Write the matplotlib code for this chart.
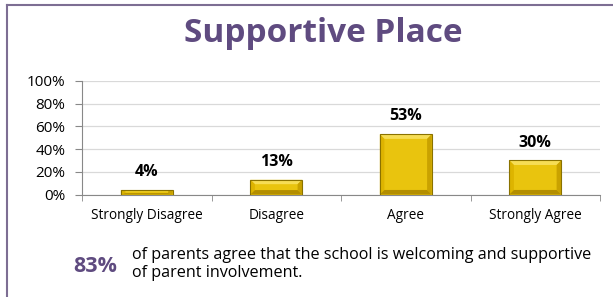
import matplotlib
matplotlib.use("Agg")
import matplotlib.pyplot as plt
from matplotlib.patches import Polygon
from matplotlib.lines import Line2D

categories = ["Strongly Disagree", "Disagree", "Agree", "Strongly Agree"]
values = [4, 13, 53, 30]
yticks = [0, 20, 40, 60, 80, 100]
title = "Supportive Place"
summary_pct = "83%"
summary_text = "of parents agree that the school is welcoming and supportive\nof parent involvement."

plt.rcParams['font.family'] = ['Open Sans', 'DejaVu Sans']

W, H = 613, 297
fig = plt.figure(figsize=(W/100, H/100), dpi=100)
fig.patch.set_facecolor('white')

# border (top and left)
border_c = '#7d6e93'
fig.add_artist(Line2D([7/W, 1], [1-5/H, 1-5/H], color=border_c, lw=1.5, transform=fig.transFigure))
fig.add_artist(Line2D([7/W, 7/W], [0, 1-5/H], color=border_c, lw=1.5, transform=fig.transFigure))

ax = fig.add_axes([82/W, 1-194.5/H, 518/W, 113.5/H])
x = list(range(len(categories)))
w = 0.4
ax.bar(x, values, width=w, color='#E9C40E', edgecolor='none', zorder=3)
# bevel effect
for xi, v in zip(x, values):
    b = 0.035
    bh = min(4.0, v * 0.3)
    x0, x1 = xi - w/2, xi + w/2
    top = [(x0, v), (x1, v), (x1 - b, v - bh), (x0 + b, v - bh)]
    ax.add_patch(Polygon(top, closed=True, facecolor='#F6DD55', edgecolor='none', zorder=4))
    left = [(x0, 0), (x0, v), (x0 + b, v - bh), (x0 + b, bh)]
    ax.add_patch(Polygon(left, closed=True, facecolor='#DDB400', edgecolor='none', zorder=4))
    right = [(x1, 0), (x1, v), (x1 - b, v - bh), (x1 - b, bh)]
    ax.add_patch(Polygon(right, closed=True, facecolor='#C9A200', edgecolor='none', zorder=4))
    bot = [(x0, 0), (x1, 0), (x1 - b, bh), (x0 + b, bh)]
    ax.add_patch(Polygon(bot, closed=True, facecolor='#B38E00', edgecolor='none', zorder=4))
    ax.bar(xi, v, width=w, color='none', edgecolor='#8a7200', linewidth=0.8, zorder=5)
    ax.annotate(f"{v}%", (xi, v), xytext=(0, 10), textcoords='offset points',
                ha='center', va='baseline', fontsize=11.5, fontweight='bold', color='black')

ax.set_xlim(-0.5, len(categories) - 0.5)
ax.set_ylim(0, 100)
ax.set_yticks(yticks)
ax.set_yticklabels([f"{t}%" for t in yticks], fontsize=11)
ax.yaxis.grid(True, color='#d9d9d9', linewidth=0.9, zorder=0)
ax.set_axisbelow(True)
ax.set_xticks(x)
ax.set_xticklabels(categories, fontsize=9.8)
ax.tick_params(axis='x', length=0, pad=10)
ax.set_xticks([i - 0.5 for i in range(len(categories) + 1)], minor=True)
ax.tick_params(axis='x', which='minor', length=4, color='#888888')
ax.tick_params(axis='y', length=5, color='#888888', pad=7)
for s in ['top', 'right']:
    ax.spines[s].set_visible(False)
ax.spines['left'].set_color('#888888')
ax.spines['bottom'].set_color('#888888')

fig.text(323/W, 1-33/H, title, ha='center', va='center', fontsize=24, fontweight='bold', color='#5f4b80')
fig.text(95/W, 1-267/H, summary_pct, ha='center', va='center', fontsize=15.5, fontweight='bold', color='#5f4b80')
fig.text(132/W, 1-264/H, summary_text, ha='left', va='center', fontsize=11.6, color='black', linespacing=1.1)

fig.savefig('out.png', dpi=100)
